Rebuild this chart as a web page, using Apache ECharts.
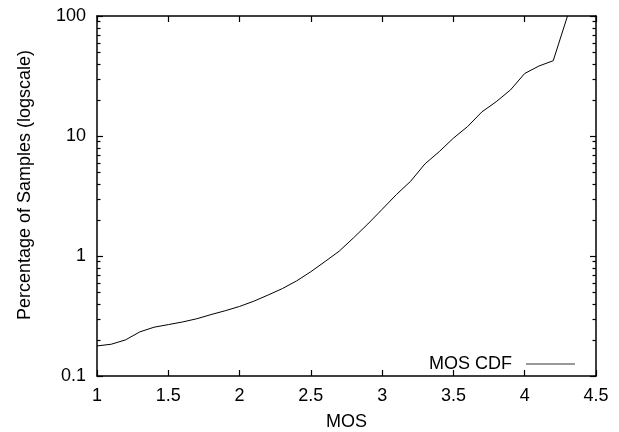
<!DOCTYPE html>
<html>
<head>
<meta charset="utf-8">
<script src="https://cdn.jsdelivr.net/npm/echarts@6/dist/echarts.min.js"></script>
<style>html,body{margin:0;padding:0;background:#fff;}#c{width:619px;height:432px;}</style>
</head>
<body>
<div id="c"></div>
<script>
// ---- data ----
const mos = [1.0,1.1,1.2,1.3,1.4,1.5,1.6,1.7,1.8,1.9,2.0,2.1,2.2,2.3,2.4,2.5,2.6,2.7,2.8,2.9,3.0,3.1,3.2,3.3,3.4,3.5,3.6,3.7,3.8,3.9,4.0,4.1,4.2,4.3];
const pct = [0.178,0.184,0.200,0.233,0.255,0.268,0.282,0.300,0.325,0.350,0.380,0.420,0.473,0.535,0.620,0.740,0.900,1.10,1.42,1.85,2.45,3.25,4.20,5.85,7.40,9.60,12.0,15.9,19.3,24.2,33.2,38.3,42.4,100];
const seriesName = 'MOS CDF';
const xTitle = 'MOS';
const yTitle = 'Percentage of Samples (logscale)';
const minorTicks = [0.2,0.3,0.4,0.5,0.6,0.7,0.8,0.9,2,3,4,5,6,7,8,9,20,30,40,50,60,70,80,90];

const FONT = 'Liberation Sans, Arial, sans-serif';
const FS = 18;
const chart = echarts.init(document.getElementById('c'), null, {renderer:'canvas'});
const axisLine = {show:true, lineStyle:{color:'#000', width:1.5}};
const option = {
  animation:false,
  backgroundColor:'#fff',
  grid:{left:97, right:23, top:16, bottom:56, containLabel:false, outerBoundsMode:'none'},
  legend:{
    data:[{name:seriesName, icon:'rect'}], right:39, top:350, align:'right',
    itemWidth:49, itemHeight:1.5,
    itemStyle:{color:'#777', borderWidth:0},
    textStyle:{fontFamily:FONT, fontSize:FS, color:'#000', padding:[0,9,0,0]}
  },
  xAxis:[{
    type:'value', min:1, max:4.5, interval:0.5, position:'bottom',
    name:xTitle, nameLocation:'middle', nameGap:37,
    nameTextStyle:{fontFamily:FONT, fontSize:FS, color:'#000'},
    axisLine:axisLine, axisTick:{inside:true, length:6, lineStyle:{color:'#000', width:1.2}},
    axisLabel:{fontFamily:FONT, fontSize:FS, color:'#000', margin:11},
    splitLine:{show:false}
  },{
    type:'value', min:1, max:4.5, interval:0.5, position:'top',
    axisLine:axisLine, axisTick:{inside:true, length:6, lineStyle:{color:'#000', width:1.2}},
    axisLabel:{show:false}, splitLine:{show:false}
  }],
  yAxis:[{
    type:'log', logBase:10, min:0.1, max:100, position:'left',
    axisLine:axisLine, axisTick:{inside:true, length:6, lineStyle:{color:'#000', width:1.2}},
    axisLabel:{fontFamily:FONT, fontSize:FS, color:'#000', margin:11,
      formatter:v=>String(+v.toPrecision(3))},
    splitLine:{show:false}, minorTick:{show:false}
  },{
    type:'log', logBase:10, min:0.1, max:100, position:'right',
    axisLine:axisLine, axisTick:{inside:true, length:6, lineStyle:{color:'#000', width:1.2}},
    axisLabel:{show:false}, splitLine:{show:false}
  }],
  graphic:[{
    type:'text', x:25, y:185, rotation:Math.PI/2,
    style:{text:yTitle, font:FS+'px '+FONT, fill:'#000', align:'center', verticalAlign:'middle'}
  }],
  series:[{
    name:seriesName, type:'line', xAxisIndex:0, yAxisIndex:0,
    data:mos.map((m,i)=>[m,pct[i]]),
    symbol:'none', smooth:false,
    lineStyle:{color:'#000', width:1}, itemStyle:{color:'#000'}
  },{
    name:'minor', type:'custom', xAxisIndex:0, yAxisIndex:0, silent:true,
    data:minorTicks.map(v=>[1,v]),
    renderItem:function(params, api){
      const cs = params.coordSys;
      const p = api.coord([1, api.value(1)]);
      const y = Math.round(p[1])+0.5;
      const st = {stroke:'#000', lineWidth:1.2};
      return {type:'group', children:[
        {type:'line', shape:{x1:cs.x, y1:y, x2:cs.x+3.5, y2:y}, style:st},
        {type:'line', shape:{x1:cs.x+cs.width-3.5, y1:y, x2:cs.x+cs.width, y2:y}, style:st}
      ]};
    }
  }]
};
chart.setOption(option);
</script>
</body>
</html>
